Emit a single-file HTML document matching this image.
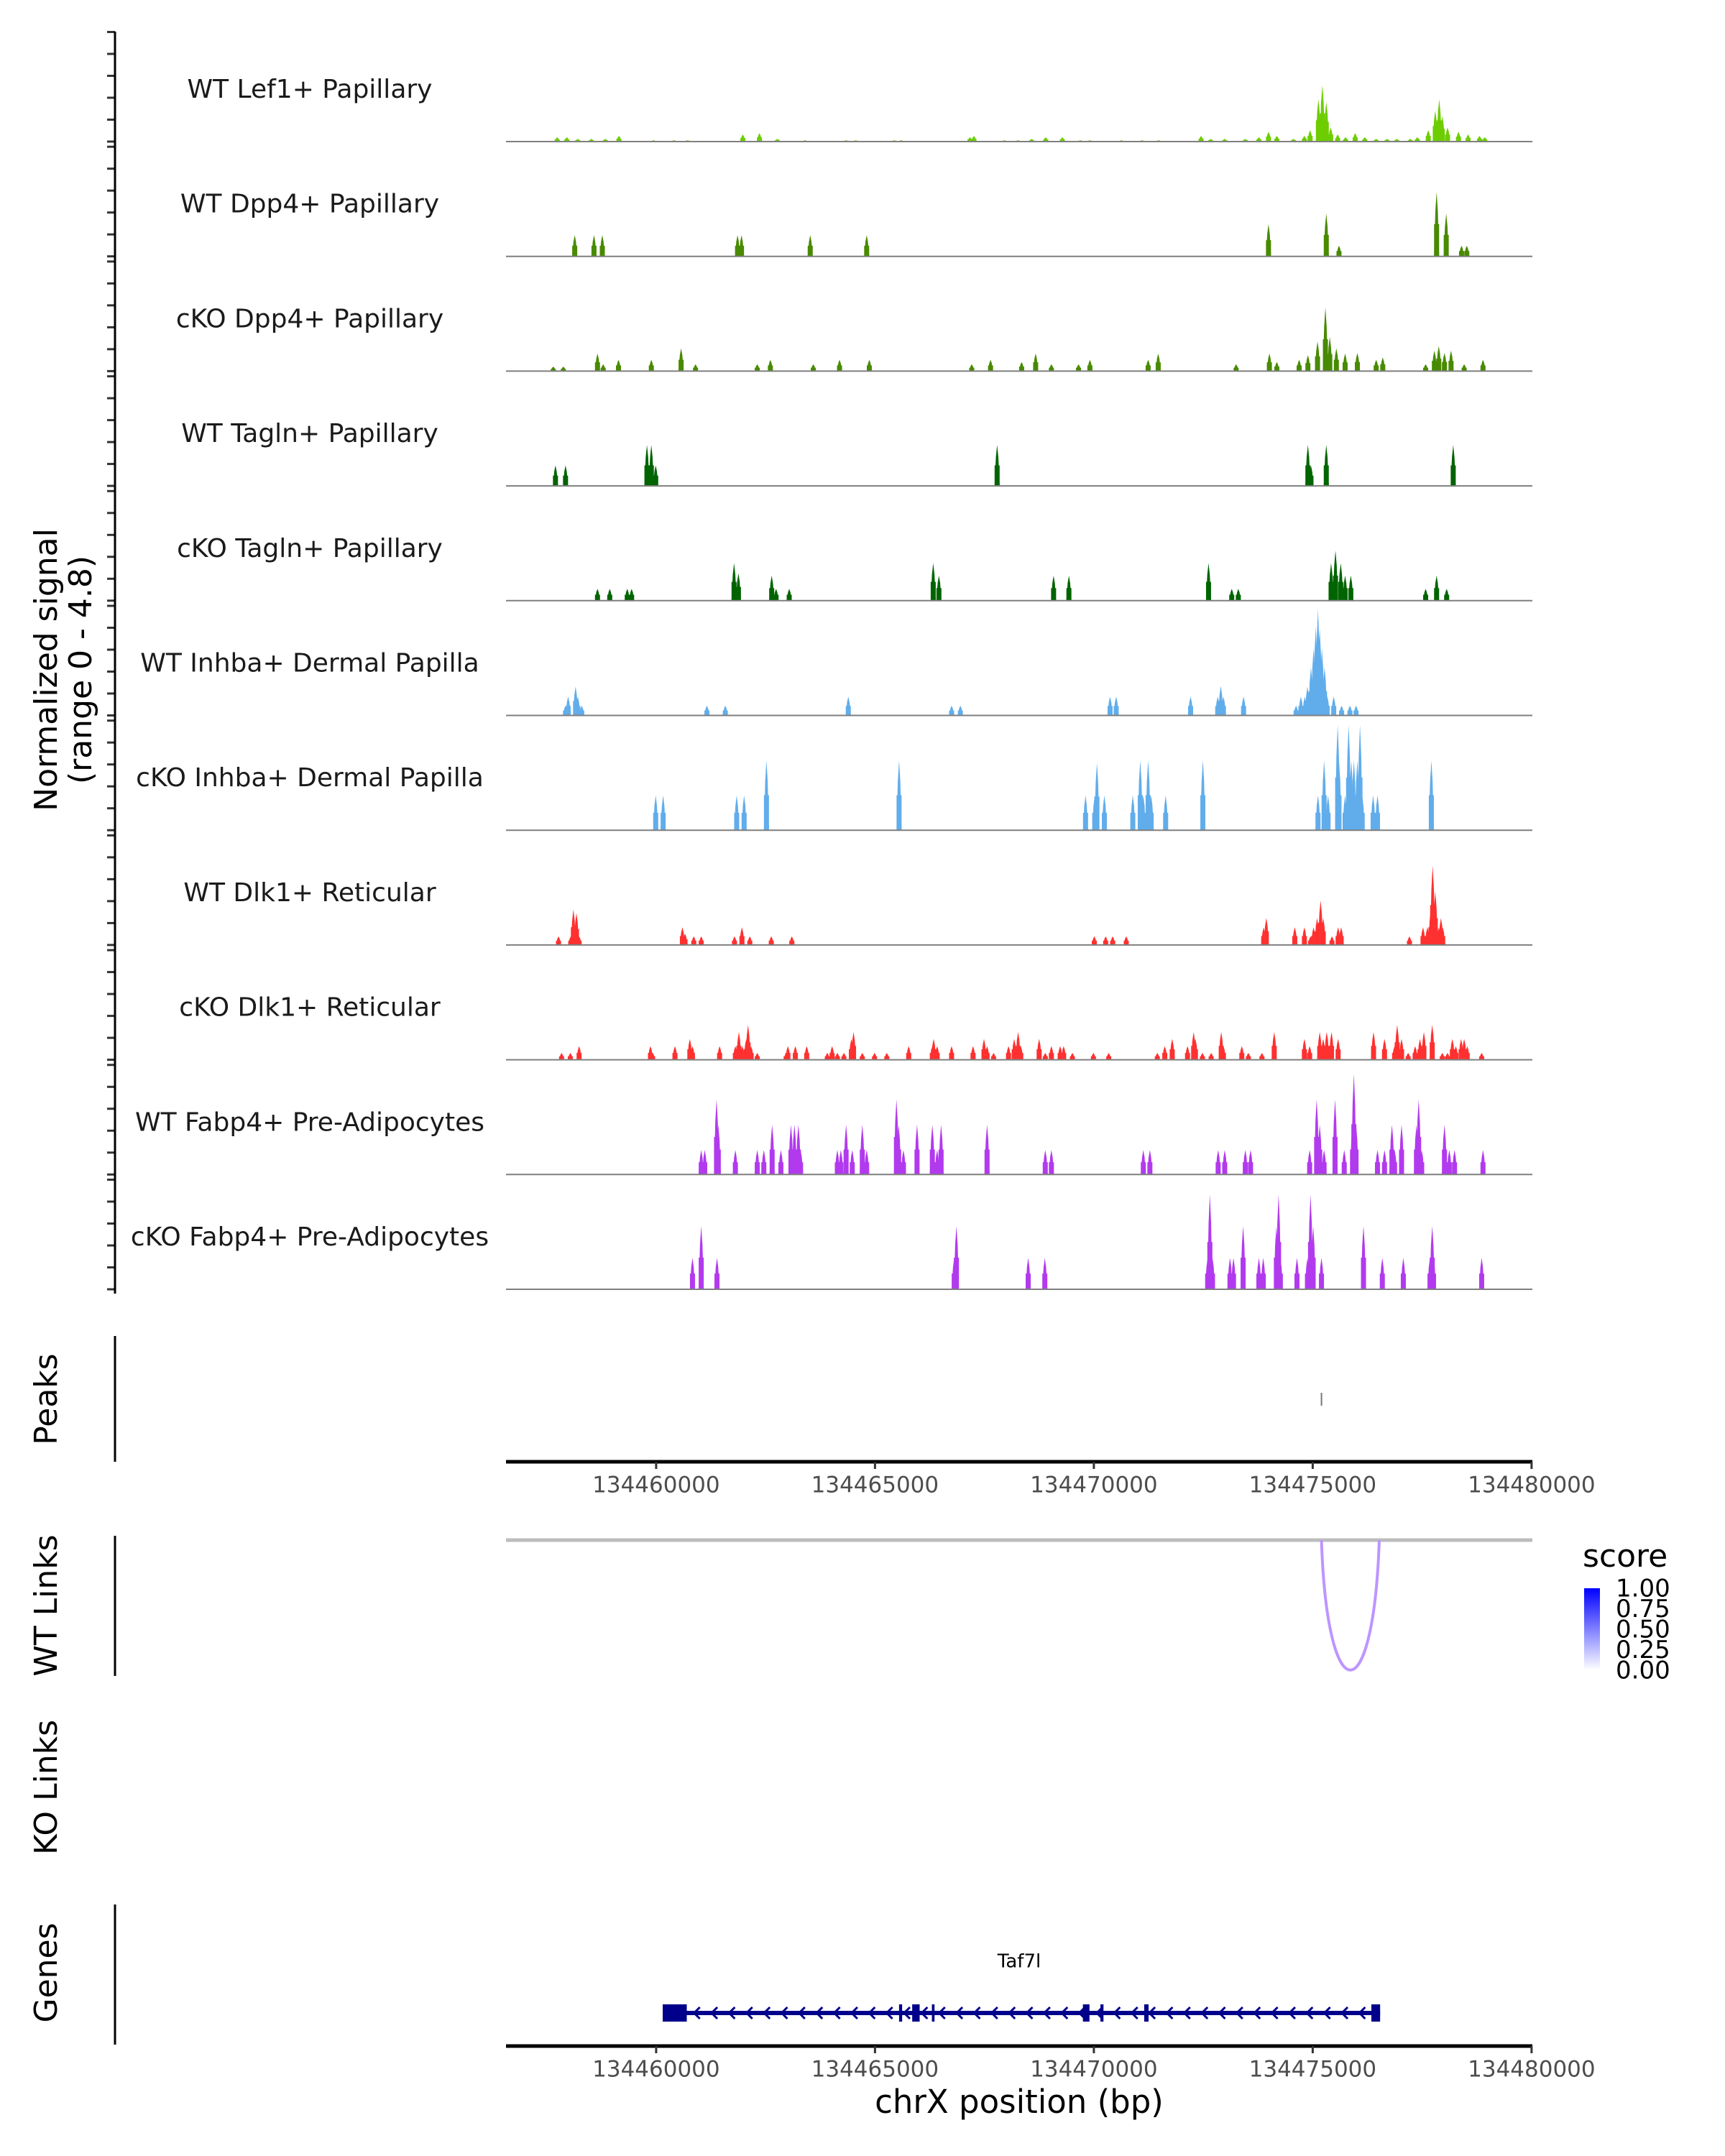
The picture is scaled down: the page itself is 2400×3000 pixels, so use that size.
<!DOCTYPE html>
<html><head><meta charset="utf-8"><style>
html,body{margin:0;padding:0;background:#fff;}
svg{display:block;font-family:"DejaVu Sans","Liberation Sans",sans-serif;}
</style></head><body>
<svg id="chart" width="2400" height="3000" viewBox="0 0 2400 3000">
<g id="tracks"></g>
<g id="axes"></g>
</svg>
<script>
// ---- data (positions in kb offset from chrX:134450000; values = normalized signal) ----
const trackNames = ["WT Lef1+ Papillary","WT Dpp4+ Papillary","cKO Dpp4+ Papillary","WT Tagln+ Papillary","cKO Tagln+ Papillary","WT Inhba+ Dermal Papilla","cKO Inhba+ Dermal Papilla","WT Dlk1+ Reticular","cKO Dlk1+ Reticular","WT Fabp4+ Pre-Adipocytes","cKO Fabp4+ Pre-Adipocytes"];
const trackColors = ["#6dcd00","#488a00","#488a00","#006400","#006400","#61adeb","#61adeb","#ff3030","#ff3030","#b23aee","#b23aee"];
const pos0 = [7.74,7.96,8.21,8.52,8.84,9.15,9.94,10.41,10.72,11.98,12.36,12.77,13.40,14.34,14.56,15.44,15.60,17.17,17.26,17.96,18.27,18.58,18.90,19.28,19.69,19.91,20.63,21.10,21.48,22.45,22.67,22.99,23.46,23.77,23.99,24.18,24.56,24.81,24.94,25.13,25.22,25.31,25.41,25.57,25.75,25.97,26.19,26.45,26.70,26.92,27.23,27.39,27.64,27.80,27.89,27.96,28.08,28.33,28.55,28.81,28.93];
const val0 = [0.19,0.19,0.12,0.12,0.12,0.25,0.06,0.06,0.06,0.31,0.37,0.12,0.06,0.06,0.06,0.06,0.06,0.19,0.25,0.06,0.06,0.12,0.19,0.19,0.06,0.06,0.06,0.06,0.06,0.25,0.12,0.12,0.12,0.19,0.43,0.25,0.12,0.25,0.5,1.86,2.48,1.74,0.62,0.31,0.19,0.37,0.19,0.12,0.12,0.12,0.12,0.19,0.5,1.36,1.86,1.12,0.62,0.43,0.31,0.25,0.19];
const pos1 = [8.14,8.58,8.77,11.86,11.95,13.52,14.81,23.99,25.31,25.60,27.83,28.05,28.40,28.52];
const val1 = [0.93,0.93,0.93,0.93,0.93,0.93,0.93,1.42,1.88,0.47,2.83,1.88,0.47,0.47];
const pos2 = [7.65,7.88,8.66,8.79,9.14,9.89,10.57,10.90,12.31,12.61,13.59,14.19,14.87,17.21,17.64,18.35,18.67,19.03,19.65,19.91,21.24,21.47,23.25,24.01,24.18,24.69,24.89,25.11,25.29,25.39,25.54,25.74,26.02,26.45,26.60,27.58,27.78,27.88,28.01,28.16,28.46,28.89];
const val2 = [0.2,0.2,0.77,0.3,0.5,0.5,1.0,0.3,0.3,0.5,0.3,0.5,0.5,0.3,0.5,0.4,0.77,0.3,0.3,0.5,0.5,0.77,0.3,0.77,0.4,0.5,0.7,1.3,2.8,1.5,1.0,0.77,0.8,0.5,0.6,0.3,0.9,1.1,0.8,0.9,0.3,0.5];
const pos3 = [7.70,7.93,9.79,9.89,9.99,17.79,24.89,24.96,25.31,28.21];
const val3 = [0.9,0.9,1.8,1.8,0.9,1.8,1.8,0.9,1.8,1.8];
const pos4 = [8.66,8.94,9.34,9.44,11.78,11.88,12.64,12.74,13.04,16.33,16.46,19.08,19.43,22.62,23.15,23.30,25.42,25.52,25.64,25.74,25.87,27.58,27.83,28.06];
const val4 = [0.52,0.52,0.52,0.52,1.65,1.2,1.1,0.52,0.52,1.65,1.1,1.1,1.1,1.65,0.52,0.52,1.65,2.2,1.65,1.1,1.1,0.52,1.1,0.52];
const pos5 = [7.93,7.99,8.16,8.21,8.30,11.16,11.58,14.39,16.75,16.95,20.37,20.51,22.21,22.83,22.90,22.96,23.42,24.62,24.73,24.82,24.88,24.96,25.02,25.07,25.12,25.16,25.21,25.27,25.33,25.48,25.66,25.85,25.99];
const val5 = [0.43,0.83,1.27,0.83,0.43,0.43,0.43,0.83,0.43,0.43,0.83,0.83,0.83,0.83,1.3,0.83,0.83,0.43,0.83,0.83,1.27,2.12,2.96,3.9,4.67,3.8,2.96,2.12,0.86,0.83,0.43,0.43,0.43];
const pos6 = [9.99,10.16,11.84,12.01,12.52,15.55,19.81,20.02,20.07,20.24,20.89,21.06,21.13,21.24,21.31,21.64,22.49,25.12,25.26,25.35,25.57,25.60,25.74,25.82,25.88,25.94,26.02,26.08,26.13,26.38,26.48,27.71];
const val6 = [1.53,1.53,1.53,1.53,3.07,3.07,1.53,1.53,2.96,1.53,1.53,3.07,1.53,3.07,1.53,1.53,3.07,1.53,3.07,1.53,4.63,3.07,1.53,4.63,3.07,3.07,3.07,4.63,1.53,1.53,1.53,3.07];
const pos7 = [7.77,8.05,8.11,8.18,8.24,10.60,10.66,10.86,11.03,11.79,11.96,12.14,12.63,13.10,20.01,20.27,20.43,20.74,23.88,23.94,24.59,24.81,24.95,25.02,25.10,25.18,25.24,25.44,25.58,25.65,27.21,27.52,27.62,27.70,27.74,27.80,27.88,27.93,27.97];
const val7 = [0.38,0.38,1.56,1.4,0.38,0.78,0.5,0.38,0.38,0.38,0.78,0.38,0.38,0.38,0.38,0.38,0.38,0.38,0.78,1.19,0.78,0.78,0.38,0.78,1.19,1.96,1.19,0.38,0.78,0.78,0.38,0.78,0.78,1.56,3.5,2.35,0.78,1.19,0.78];
const pos8 = [7.84,8.04,8.24,9.87,9.92,10.43,10.77,10.83,11.45,11.81,11.89,11.97,12.06,12.10,12.17,12.31,12.97,13.01,13.18,13.44,13.91,14.02,14.14,14.29,14.46,14.51,14.71,14.99,15.27,15.77,16.31,16.34,16.42,16.75,17.24,17.49,17.56,17.71,18.05,18.18,18.27,18.33,18.75,18.89,19.03,19.23,19.31,19.51,19.99,20.34,21.45,21.62,21.79,22.14,22.28,22.32,22.48,22.68,22.91,22.96,23.38,23.53,23.84,24.12,24.81,24.93,25.16,25.24,25.32,25.43,25.58,26.39,26.64,26.87,26.93,27.03,27.18,27.34,27.45,27.54,27.73,27.96,28.08,28.19,28.27,28.39,28.46,28.53,28.86];
const val8 = [0.3,0.3,0.6,0.6,0.3,0.6,0.92,0.6,0.6,0.6,1.22,0.6,0.92,1.53,0.6,0.3,0.3,0.6,0.6,0.6,0.3,0.6,0.3,0.3,0.92,1.22,0.3,0.3,0.3,0.6,0.6,0.92,0.6,0.6,0.6,0.92,0.6,0.3,0.6,0.92,1.22,0.6,0.92,0.3,0.6,0.6,0.6,0.3,0.3,0.3,0.3,0.6,0.92,0.6,1.22,0.92,0.3,0.3,1.22,0.6,0.6,0.3,0.3,1.22,0.92,0.6,1.22,0.92,1.22,1.22,0.92,1.22,0.92,0.6,1.53,0.92,0.3,0.6,0.92,1.22,1.53,0.3,0.3,0.92,0.6,0.92,0.92,0.6,0.3];
const pos9 = [11.03,11.11,11.38,11.42,11.81,12.31,12.46,12.65,12.85,13.08,13.16,13.25,13.30,14.14,14.22,14.34,14.48,14.71,14.81,15.49,15.54,15.65,15.96,16.31,16.42,16.51,17.56,18.89,19.03,21.13,21.28,22.84,22.99,23.46,23.58,24.93,25.09,25.16,25.26,25.51,25.72,25.91,25.94,25.99,26.48,26.64,26.81,26.87,27.03,27.37,27.42,27.49,28.01,28.12,28.24,28.89];
const val9 = [1.08,1.08,3.3,2.19,1.08,1.08,1.08,2.19,1.08,2.19,2.19,2.19,1.08,1.08,1.08,2.19,1.08,2.19,1.08,3.3,2.19,1.08,2.19,2.19,1.08,2.19,2.19,1.08,1.08,1.08,1.08,1.08,1.08,1.08,1.08,1.08,3.3,2.19,1.08,3.3,1.08,2.19,4.42,2.19,1.08,1.08,2.19,1.08,2.19,2.19,3.3,1.08,2.19,1.08,1.08,1.08];
const pos10 = [10.83,11.03,11.39,16.81,16.86,18.50,18.88,22.60,22.65,22.71,23.11,23.19,23.41,23.77,23.87,24.17,24.22,24.26,24.64,24.88,24.95,25.01,25.20,26.16,26.59,27.07,27.68,27.73,27.76,28.86];
const val10 = [1.38,2.78,1.38,1.38,2.78,1.38,1.38,1.38,4.16,1.38,1.38,1.38,2.78,1.38,1.38,2.78,4.16,1.38,1.38,1.38,4.16,2.78,1.38,2.78,1.38,1.38,1.38,2.78,1.38,1.38];
const trackPos = [pos0,pos1,pos2,pos3,pos4,pos5,pos6,pos7,pos8,pos9,pos10];
const trackVal = [val0,val1,val2,val3,val4,val5,val6,val7,val8,val9,val10];
const xTicks = [134460000,134465000,134470000,134475000,134480000];
const legendTicks = ["1.00","0.75","0.50","0.25","0.00"];
const peakStarts = [25.2];
const linkStart = [25.2];
const linkEnd = [26.52];
const linkScore = [0.55];
const exonStarts = [10.15,15.55,15.85,16.30,19.75,20.15,21.15,26.34];
const exonEnds = [10.70,15.62,16.02,16.36,19.90,20.22,21.25,26.54];
const geneStart = [10.15];
const geneEnd = [26.54];

// ---- scales ----
const X0 = 704, X1 = 2132, KB0 = 6.57, PXPERKB = 60.9;
function xs(kb){ return X0 + (kb - KB0) * PXPERKB; }
function xbp(bp){ return xs((bp - 134450000) / 1000); }
const BASE0 = 197, STEP = 159.7, HMAX = 152, VMAX = 4.8;
function ys(v, t){ return BASE0 + t*STEP - v / VMAX * HMAX; }

const NS = "http://www.w3.org/2000/svg";
function mk(tag, attrs, parent){ const e = document.createElementNS(NS, tag); for (const k in attrs) e.setAttribute(k, attrs[k]); parent.appendChild(e); return e; }
const tracksG = document.getElementById('tracks');
const axesG = document.getElementById('axes');

// ---- coverage tracks ----
for (let t = 0; t < trackNames.length; t++) {
  const base = ys(0, t);
  const g = mk('g', {}, tracksG);
  
  
  const lbl = mk('text', {x: 431, y: base - 71, 'text-anchor': 'middle', 'font-size': 36, fill: '#1a1a1a', 'dominant-baseline':'middle'}, g);
  lbl.textContent = trackNames[t];
  
  
  const ps = trackPos[t], vs = trackVal[t];
  for (let i = 0; i < ps.length; i++) {
    const cx = xs(ps[i]), top = ys(vs[i], t), w = 7;
    const p = mk('path', {d: `M${cx-w/2},${base} L${cx-w/4},${top+ (base-top)*0.3} L${cx},${top} L${cx+w/4},${top+(base-top)*0.3} L${cx+w/2},${base} Z`, fill: trackColors[t]}, g);
    
    
    const r = mk('rect', {x: cx - w/2, y: base - (base-top)*0.5, width: w, height: (base-top)*0.5, fill: trackColors[t]}, g);
    
    
  }
  const bl = mk('line', {x1: X0, x2: X1, y1: base, y2: base, stroke: '#7f7f7f', 'stroke-width': 2}, g);
  
  
  for (let k = 0; k <= 5; k++) {
    const ty = base - k * 30.5;
    const tk = mk('line', {x1: 149, x2: 160, y1: ty, y2: ty, stroke: '#333', 'stroke-width': 3}, axesG);
    
    
  }
}
// main y axis
let e = mk('line', {x1: 160, x2: 160, y1: 44, y2: 1800, stroke: '#000', 'stroke-width': 3}, axesG);


e = mk('text', {transform: 'translate(67,932) rotate(-90)', 'text-anchor': 'middle', 'font-size': 44, fill: '#000', 'dominant-baseline':'middle'}, axesG);
e.textContent = 'Normalized signal';


e = mk('text', {transform: 'translate(115,932) rotate(-90)', 'text-anchor': 'middle', 'font-size': 44, fill: '#000', 'dominant-baseline':'middle'}, axesG);
e.textContent = '(range 0 - 4.8)';



// side panel labels & axes
function sideLabel(txt, cy, name){
  const t = mk('text', {transform: `translate(67,${cy}) rotate(-90)`, 'text-anchor': 'middle', 'font-size': 44, fill: '#000', 'dominant-baseline':'middle'}, axesG);
  t.textContent = txt;
  
  
}
sideLabel('Peaks', 1947, 'peaks-label');
sideLabel('WT Links', 2234, 'wt-links-label');
sideLabel('KO Links', 2487, 'ko-links-label');
sideLabel('Genes', 2745, 'genes-label');
[[1859,2034,'peaks-axis'],[2137,2332,'wt-links-axis'],[2650,2845,'genes-axis']].forEach(a=>{
  const l = mk('line', {x1:160,x2:160,y1:a[0],y2:a[1],stroke:'#000','stroke-width':3}, axesG);
  
  
});

// peaks
peakStarts.forEach(p=>{
  const l = mk('line', {x1: xs(p), x2: xs(p), y1: 1956, y2: 1938, stroke:'#777','stroke-width':2}, axesG);
  
  
});

// x axes
function xAxis(y, name){
  const g = mk('g', {}, axesG);
  
  
  mk('line', {x1: X0, x2: X1, y1: y, y2: y, stroke:'#000','stroke-width':5}, g);
  xTicks.forEach(b=>{
    const x = xbp(b);
    mk('line', {x1:x,x2:x,y1:y,y2:y+10,stroke:'#333','stroke-width':3}, g);
    const t = mk('text', {x:x, y:y+34, 'text-anchor':'middle','font-size':31, fill:'#4d4d4d','dominant-baseline':'middle'}, g);
    t.textContent = b;
    
    
  });
}
xAxis(2034, 'peaks-x-axis');
xAxis(2847, 'genes-x-axis');
e = mk('text', {x: 1418, y: 2928, 'text-anchor':'middle','font-size':45, fill:'#000','dominant-baseline':'middle'}, axesG);
e.textContent = 'chrX position (bp)';



// links
e = mk('line', {x1: X0, x2: X1, y1: 2143, y2: 2143, stroke:'#bdbdbd','stroke-width':5}, axesG);


for (let i = 0; i < linkStart.length; i++) {
  const a = xs(linkStart[i]), b = xs(linkEnd[i]);
  const c = Math.round(255 - linkScore[i]*120);
  const arc = mk('path', {d:`M${a},2143 C${a+8},2384 ${b-8},2384 ${b},2143`, fill:'none', stroke:`rgb(${c},${c-40},255)`, 'stroke-width':4}, axesG);
  
  
}
// legend
const defs = mk('defs', {}, axesG);
const grad = mk('linearGradient', {id:'sg', x1:0,y1:1,x2:0,y2:0}, defs);
mk('stop', {offset:'0', 'stop-color':'#ffffff'}, grad);
mk('stop', {offset:'1', 'stop-color':'#0000ff'}, grad);
e = mk('text', {x:2202, y:2168, 'font-size':44, fill:'#000','dominant-baseline':'middle'}, axesG);
e.textContent = 'score';


e = mk('rect', {x:2204, y:2210, width:22, height:114, fill:'url(#sg)'}, axesG);


legendTicks.forEach((s,i)=>{
  const y = 2212 + i*28.5;
  const t = mk('text', {x:2248, y:y, 'font-size':34, fill:'#000','dominant-baseline':'middle'}, axesG);
  t.textContent = s;
  
  
});

// gene
const gg = mk('g', {}, axesG);


const GY = 2801;
mk('line', {x1: xs(geneStart[0]), x2: xs(geneEnd[0]), y1: GY, y2: GY, stroke:'#00008b','stroke-width':6}, gg);
for (let kb = geneStart[0] + 0.75; kb < geneEnd[0] - 0.2; kb += 0.4) {
  const x = xs(kb);
  mk('path', {d:`M${x+6},${GY-8} L${x-2},${GY} L${x+6},${GY+8}`, fill:'none', stroke:'#00008b','stroke-width':3}, gg);
}
for (let i = 0; i < exonStarts.length; i++) {
  const r = mk('rect', {x: xs(exonStarts[i]), y: GY-12, width: xs(exonEnds[i]) - xs(exonStarts[i]), height: 24, fill:'#00008b'}, gg);
  
  
}
e = mk('text', {x:1418, y:2730, 'text-anchor':'middle','font-size':26, fill:'#000','dominant-baseline':'middle'}, gg);
e.textContent = 'Taf7l';


</script>
</body></html>
